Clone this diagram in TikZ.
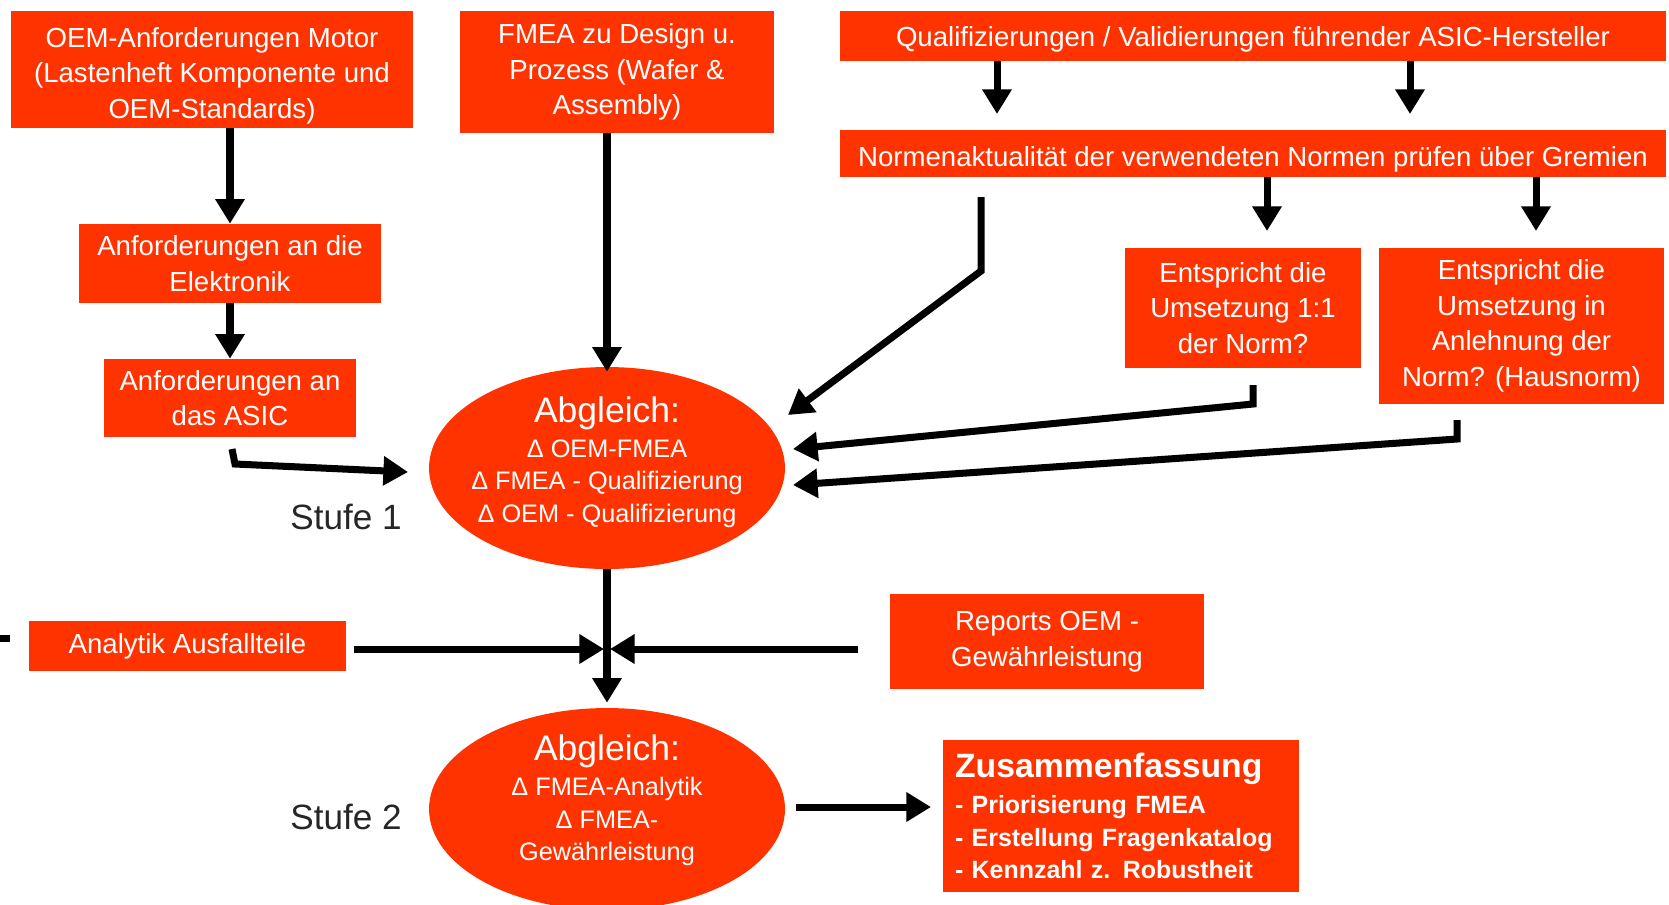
\documentclass[tikz,border=0pt]{standalone}
\usepackage{fontspec}
\setmainfont{Liberation Sans}
\usepackage{tikz}
\usetikzlibrary{arrows.meta, shapes.geometric}
\definecolor{oemrot}{RGB}{255,51,0}

\begin{document}
\begin{tikzpicture}[x=0.02cm, y=-0.02cm]
		\tikzset{box/.style = {fill=oemrot, text=white, inner sep=0pt, align=center, font=\fontsize{15.7}{20.3}\selectfont}}
		\tikzset{oval/.style = {ellipse, fill=oemrot, inner sep=0pt, minimum width=7.12cm, minimum height=4.04cm}}
		\tikzset{ovaltext/.style = {text=white, align=center, font=\fontsize{14.4}{18.5}\selectfont}}
		\tikzset{pfeil/.style = {line width=4pt, -{Triangle[width=16pt,length=14pt]}}}
		\tikzset{stufe/.style = {text=black!85, font=\fontsize{20}{24}\selectfont}}

		\useasboundingbox (0,0) rectangle (1669,904);

		% Kasten oben
		\node[box, minimum width=8.04cm, minimum height=2.34cm, text height=59pt] (oem) at (212,69.5) {OEM-Anforderungen Motor\\(Lastenheft Komponente und\\OEM-Standards)};
		\node[box, minimum width=6.04cm, minimum height=1.58cm] (elek) at (230,263.5) {Anforderungen an die\\Elektronik};
		\node[box, minimum width=5.04cm, minimum height=1.56cm] (asic) at (230,398) {Anforderungen an\\das ASIC};
		\node[box, minimum width=6.28cm, minimum height=2.44cm] (fmea) at (617,72) {FMEA zu Design u.\\Prozess (Wafer \&\\Assembly)};
		\node[box, minimum width=16.52cm, minimum height=1cm, text height=15pt] (quali) at (1253,36) {Qualifizierungen / Validierungen führender ASIC-Hersteller};
		\node[box, minimum width=16.52cm, minimum height=0.94cm, text height=17.5pt] (normen) at (1253,153.5) {Normenaktualität der verwendeten Normen prüfen über Gremien};
		\node[box, minimum width=4.72cm, minimum height=2.4cm] (eins) at (1243,308) {Entspricht die\\Umsetzung 1:1\\der Norm?};
		\node[box, minimum width=5.7cm, minimum height=3.12cm] (haus) at (1521.5,326) {Entspricht die\\Umsetzung in\\Anlehnung der\\Norm? (Hausnorm)};

		% Abgleich
		\node[oval] (abgl1) at (607,468) {};
		\node[ovaltext] (abgl1txt) at (607,462) {{\fontsize{20.2}{21}\selectfont Abgleich:}\\[1.5pt]Δ OEM-FMEA\\Δ FMEA - Qualifizierung\\Δ OEM - Qualifizierung};
		\node[oval] (abgl2) at (607,809) {};
		\node[ovaltext] (abgl2txt) at (607,800.5) {{\fontsize{20.2}{21}\selectfont Abgleich:}\\[1.5pt]Δ FMEA-Analytik\\Δ FMEA-\\Gewährleistung};
		\node[stufe] (stufe1) at (346,517) {Stufe 1};
		\node[stufe] (stufe2) at (346,817) {Stufe 2};

		\node[box, minimum width=6.34cm, minimum height=1cm] (analytik) at (187.5,646) {Analytik Ausfallteile};
		\node[box, minimum width=6.28cm, minimum height=1.9cm] (reports) at (1047,641.5) {Reports OEM -\\Gewährleistung};
		\node[box, minimum width=7.12cm, minimum height=3.04cm, text width=6.64cm, align=left, font=\fontsize{14.2}{18.5}\selectfont\bfseries] (zusamm) at (1121,816) {{\fontsize{19.2}{21}\selectfont Zusammenfassung}\\[2pt]- Priorisierung FMEA\\- Erstellung Fragenkatalog\\- Kennzahl z. Robustheit};

		\coordinate (q1) at (997,114);
		\coordinate (q2) at (1410,114);
		\coordinate (n1) at (1267,231);
		\coordinate (n2) at (1536,231);
		\coordinate (g1) at (981,197);
		\coordinate (g2) at (981,271);
		\coordinate (g3) at (788,415);
		\coordinate (e1) at (1253,385);
		\coordinate (e2) at (1253,404);
		\coordinate (e3) at (793,449);
		\coordinate (h1) at (1457,420);
		\coordinate (h2) at (1457,439);
		\coordinate (h3) at (793,485);
		\coordinate (a1) at (232,449);
		\coordinate (a2) at (235,464);
		\coordinate (a3) at (408,472);
		\coordinate (mitte) at (607,649);
		\coordinate (r0) at (858,649);
		\coordinate (z0) at (796,807);
		\coordinate (z1) at (931,807);
		\coordinate (rest_a) at (0,638);
		\coordinate (rest_b) at (10,638);

		\draw[pfeil] (oem.south -| elek) -- (elek.north);
		\draw[pfeil] (elek.south) -- (asic.north);
		\draw[pfeil, line join=miter] (a1) -- (a2) -- (a3);
		\draw[pfeil] (fmea.south -| abgl1) -- ([yshift=-0.1cm]abgl1.north);
		\draw[pfeil] (quali.south -| q1) -- (q1);
		\draw[pfeil] (quali.south -| q2) -- (q2);
		\draw[pfeil] (normen.south -| n1) -- (n1);
		\draw[pfeil] (normen.south -| n2) -- (n2);
		\draw[pfeil] (g1) -- (g2) -- (g3);
		\draw[pfeil] (e1) -- (e2) -- (e3);
		\draw[pfeil] (h1) -- (h2) -- (h3);
		\draw[pfeil] (abgl1.south) -- ([yshift=0.1cm]abgl2.north);
		\draw[pfeil] ([shift={(8,3)}]analytik.east) -- ([shift={(-3,0)}]mitte);
		\draw[pfeil] (r0) -- ([shift={(3,0)}]mitte);
		\draw[pfeil] (z0) -- (z1);
		\draw[line width=4pt] (rest_a) -- (rest_b);

	\end{tikzpicture}
\end{document}
